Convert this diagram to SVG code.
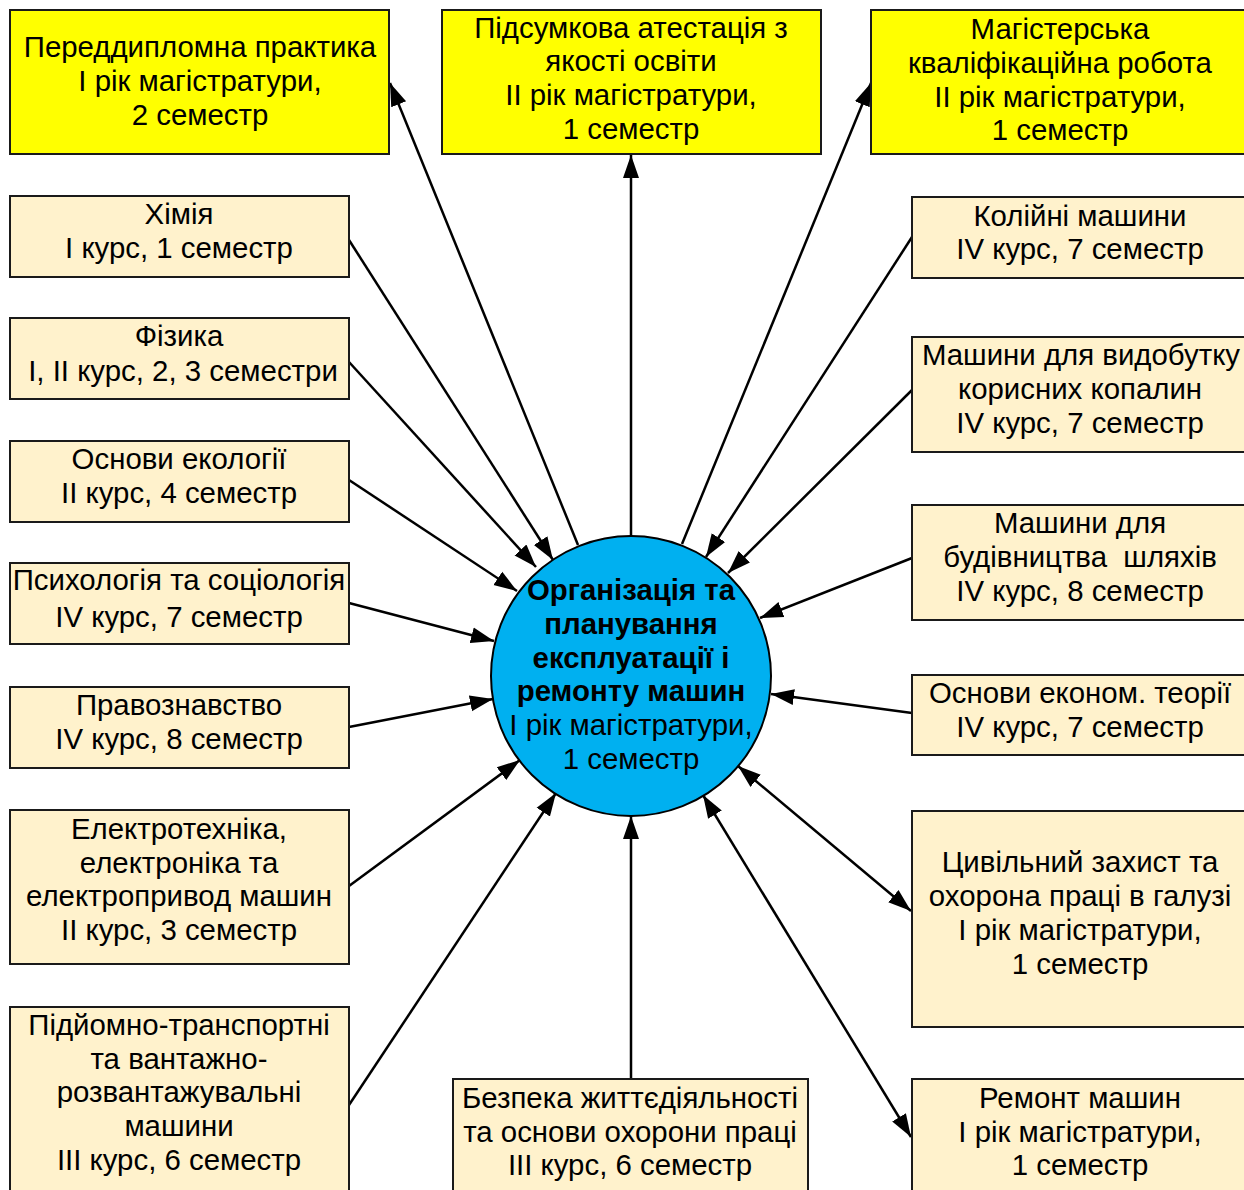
<svg xmlns="http://www.w3.org/2000/svg" width="1244" height="1190" viewBox="0 0 1244 1190">
<defs>
<style>
.box{stroke:#1a1a1a;stroke-width:2}
.y{fill:#FFFF00}
.b{fill:#FFF2CC}
text{font-family:"Liberation Sans",Arial,sans-serif;font-size:29.4px;fill:#000;text-anchor:middle}
.bold{font-weight:bold}
.c{stroke:#000;stroke-width:2.5;fill:none}
.e{marker-end:url(#ah)}
.s{marker-start:url(#ahs)}
</style>
<marker id="ah" markerUnits="userSpaceOnUse" markerWidth="24" markerHeight="18" refX="23" refY="9" orient="auto">
<path d="M0,1 L23,9 L0,17 z" fill="#000"/>
</marker>
<marker id="ahs" markerUnits="userSpaceOnUse" markerWidth="24" markerHeight="18" refX="23" refY="9" orient="auto-start-reverse">
<path d="M0,1 L23,9 L0,17 z" fill="#000"/>
</marker>
</defs>
<rect width="1244" height="1190" fill="#fff"/>

<g id="connectors">
<line class="c e" x1="578" y1="545" x2="390" y2="83"/>
<line class="c e" x1="631" y1="536" x2="631" y2="155"/>
<line class="c e" x1="682" y1="544" x2="871" y2="83"/>
<line class="c e" x1="349" y1="240" x2="553" y2="560"/>
<line class="c e" x1="349" y1="362" x2="536" y2="567"/>
<line class="c e" x1="349" y1="480" x2="517" y2="591"/>
<line class="c e" x1="349" y1="603" x2="494" y2="641"/>
<line class="c e" x1="349" y1="727" x2="493" y2="699"/>
<line class="c e" x1="349" y1="886" x2="520" y2="760"/>
<line class="c e" x1="349" y1="1105" x2="556" y2="793"/>
<line class="c e" x1="631" y1="1079" x2="631" y2="816"/>
<line class="c e" x1="912" y1="237" x2="706" y2="557"/>
<line class="c e" x1="912" y1="390" x2="728" y2="573"/>
<line class="c e" x1="912" y1="558" x2="760" y2="618"/>
<line class="c e" x1="912" y1="713" x2="771" y2="694"/>
<line class="c e s" x1="738" y1="766" x2="911" y2="911"/>
<line class="c e s" x1="703" y1="795" x2="911" y2="1137"/>
</g>

<g id="n-pereddyplomna">
<rect class="box y" x="10" y="10" width="379" height="144"/>
<text x="200" y="57">Переддипломна практика</text>
<text x="200" y="91">І рік магістратури,</text>
<text x="200" y="125">2 семестр</text>
</g>
<g id="n-pidsumkova">
<rect class="box y" x="442" y="10" width="379" height="144"/>
<text x="631" y="38">Підсумкова атестація з</text>
<text x="631" y="71">якості освіти</text>
<text x="631" y="105">ІІ рік магістратури,</text>
<text x="631" y="139">1 семестр</text>
</g>
<g id="n-mahisterska">
<rect class="box y" x="871" y="10" width="380" height="144"/>
<text x="1060" y="39">Магістерська</text>
<text x="1060" y="73">кваліфікаційна робота</text>
<text x="1060" y="107">ІІ рік магістратури,</text>
<text x="1060" y="140">1 семестр</text>
</g>

<g id="n-khimiia">
<rect class="box b" x="10" y="196" width="339" height="81"/>
<text x="179" y="224">Хімія</text>
<text x="179" y="258">І курс, 1 семестр</text>
</g>
<g id="n-fizyka">
<rect class="box b" x="10" y="318" width="339" height="81"/>
<text x="179" y="346">Фізика</text>
<text x="183" y="381">І, ІІ курс, 2, 3 семестри</text>
</g>
<g id="n-ekolohiia">
<rect class="box b" x="10" y="441" width="339" height="81"/>
<text x="179" y="469">Основи екології</text>
<text x="179" y="503">ІІ курс, 4 семестр</text>
</g>
<g id="n-psykholohiia">
<rect class="box b" x="10" y="563" width="339" height="81"/>
<text x="179" y="590">Психологія та соціологія</text>
<text x="179" y="627">IV курс, 7 семестр</text>
</g>
<g id="n-pravoznavstvo">
<rect class="box b" x="10" y="687" width="339" height="81"/>
<text x="179" y="715">Правознавство</text>
<text x="179" y="749">IV курс, 8 семестр</text>
</g>
<g id="n-elektrotekhnika">
<rect class="box b" x="10" y="810" width="339" height="154"/>
<text x="179" y="839">Електротехніка,</text>
<text x="179" y="873">електроніка та</text>
<text x="179" y="906">електропривод машин</text>
<text x="179" y="940">ІІ курс, 3 семестр</text>
</g>
<g id="n-pidiomno">
<rect class="box b" x="10" y="1007" width="339" height="190"/>
<text x="179" y="1035">Підйомно-транспортні</text>
<text x="179" y="1069">та вантажно-</text>
<text x="179" y="1102">розвантажувальні</text>
<text x="179" y="1136">машини</text>
<text x="179" y="1170">ІІІ курс, 6 семестр</text>
</g>
<g id="n-bezpeka">
<rect class="box b" x="453" y="1079" width="355" height="118"/>
<text x="630" y="1108">Безпека життєдіяльності</text>
<text x="630" y="1142">та основи охорони праці</text>
<text x="630" y="1175">ІІІ курс, 6 семестр</text>
</g>

<g id="n-koliini">
<rect class="box b" x="912" y="197" width="340" height="81"/>
<text x="1080" y="226">Колійні машини</text>
<text x="1080" y="259">IV курс, 7 семестр</text>
</g>
<g id="n-vydobutok">
<rect class="box b" x="912" y="337" width="340" height="115"/>
<text x="1081" y="365">Машини для видобутку</text>
<text x="1080" y="399">корисних копалин</text>
<text x="1080" y="433">IV курс, 7 семестр</text>
</g>
<g id="n-budivnytstvo">
<rect class="box b" x="912" y="505" width="340" height="115"/>
<text x="1080" y="533">Машини для</text>
<text x="1080" y="567" xml:space="preserve">будівництва  шляхів</text>
<text x="1080" y="601">IV курс, 8 семестр</text>
</g>
<g id="n-ekonom">
<rect class="box b" x="912" y="675" width="340" height="80"/>
<text x="1080" y="703">Основи економ. теорії</text>
<text x="1080" y="737">IV курс, 7 семестр</text>
</g>
<g id="n-tsyvilnyi">
<rect class="box b" x="912" y="811" width="340" height="216"/>
<text x="1080" y="872">Цивільний захист та</text>
<text x="1080" y="906">охорона праці в галузі</text>
<text x="1080" y="940">І рік магістратури,</text>
<text x="1080" y="974">1 семестр</text>
</g>
<g id="n-remont">
<rect class="box b" x="912" y="1079" width="340" height="118"/>
<text x="1080" y="1108">Ремонт машин</text>
<text x="1080" y="1142">І рік магістратури,</text>
<text x="1080" y="1175">1 семестр</text>
</g>

<g id="n-center">
<circle cx="631" cy="676" r="140" fill="#00B0F0" stroke="#000" stroke-width="2"/>
<text class="bold" x="631" y="600">Організація та</text>
<text class="bold" x="631" y="634">планування</text>
<text class="bold" x="631" y="668">експлуатації і</text>
<text class="bold" x="631" y="701">ремонту машин</text>
<text x="631" y="735">І рік магістратури,</text>
<text x="631" y="769">1 семестр</text>
</g>
</svg>
